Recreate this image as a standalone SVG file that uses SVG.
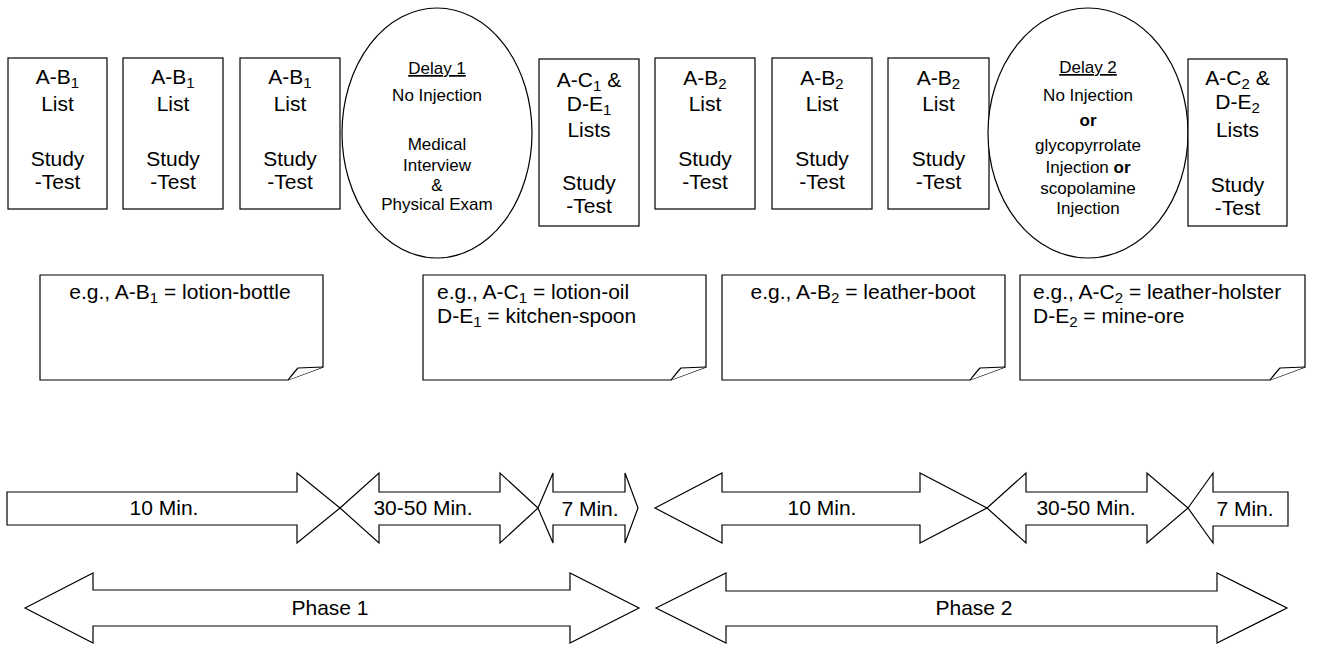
<svg xmlns="http://www.w3.org/2000/svg" width="1323" height="645" viewBox="0 0 1323 645">
<style>
.s{fill:#fff;stroke:#000;stroke-width:1.2}
.t{font-family:"Liberation Sans",Arial,Helvetica,sans-serif;fill:#000}
.bx{font-size:21px;text-anchor:middle}
.el{font-size:17px;text-anchor:middle}
.nt{font-size:21px}
.ar{font-size:21px;text-anchor:middle}
</style>
<rect width="1323" height="645" fill="#fff"/>
<g id="box1"><rect class="s" x="8" y="58" width="99" height="151"/>
<text class="t bx"><tspan x="57.5" y="84">A-B<tspan baseline-shift="-4" font-size="15">1</tspan></tspan><tspan x="57.5" y="111">List</tspan><tspan x="57.5" y="166">Study</tspan><tspan x="57.5" y="189">-Test</tspan></text></g>
<g id="box2"><rect class="s" x="123" y="58" width="100" height="151"/>
<text class="t bx"><tspan x="173" y="84">A-B<tspan baseline-shift="-4" font-size="15">1</tspan></tspan><tspan x="173" y="111">List</tspan><tspan x="173" y="166">Study</tspan><tspan x="173" y="189">-Test</tspan></text></g>
<g id="box3"><rect class="s" x="240" y="58" width="100" height="151"/>
<text class="t bx"><tspan x="290" y="84">A-B<tspan baseline-shift="-4" font-size="15">1</tspan></tspan><tspan x="290" y="111">List</tspan><tspan x="290" y="166">Study</tspan><tspan x="290" y="189">-Test</tspan></text></g>
<g id="delay1"><ellipse class="s" cx="437" cy="133" rx="95" ry="125"/>
<text class="t el" x="437" y="74" text-decoration="underline">Delay 1</text>
<text class="t el"><tspan x="437" y="101">No Injection</tspan><tspan x="437" y="150">Medical</tspan><tspan x="437" y="171">Interview</tspan><tspan x="437" y="191">&amp;</tspan><tspan x="437" y="210">Physical Exam</tspan></text></g>
<g id="box4"><rect class="s" x="539" y="59" width="100" height="167"/>
<text class="t bx"><tspan x="589" y="87">A-C<tspan baseline-shift="-4" font-size="15">1</tspan> &amp;</tspan><tspan x="589" y="111">D-E<tspan baseline-shift="-4" font-size="15">1</tspan></tspan><tspan x="589" y="137">Lists</tspan><tspan x="589" y="190">Study</tspan><tspan x="589" y="213">-Test</tspan></text></g>
<g id="box5"><rect class="s" x="655" y="58" width="100" height="151"/>
<text class="t bx"><tspan x="705" y="85">A-B<tspan baseline-shift="-4" font-size="15">2</tspan></tspan><tspan x="705" y="111">List</tspan><tspan x="705" y="166">Study</tspan><tspan x="705" y="189">-Test</tspan></text></g>
<g id="box6"><rect class="s" x="772" y="58" width="100" height="151"/>
<text class="t bx"><tspan x="822" y="85">A-B<tspan baseline-shift="-4" font-size="15">2</tspan></tspan><tspan x="822" y="111">List</tspan><tspan x="822" y="166">Study</tspan><tspan x="822" y="189">-Test</tspan></text></g>
<g id="box7"><rect class="s" x="888" y="58" width="101" height="151"/>
<text class="t bx"><tspan x="938.5" y="85">A-B<tspan baseline-shift="-4" font-size="15">2</tspan></tspan><tspan x="938.5" y="111">List</tspan><tspan x="938.5" y="166">Study</tspan><tspan x="938.5" y="189">-Test</tspan></text></g>
<g id="delay2"><ellipse class="s" cx="1088" cy="133" rx="100" ry="125"/>
<text class="t el" x="1088" y="73" text-decoration="underline">Delay 2</text>
<text class="t el"><tspan x="1088" y="101">No Injection</tspan><tspan x="1088" y="126" font-weight="bold">or</tspan><tspan x="1088" y="151">glycopyrrolate</tspan><tspan x="1088" y="173">Injection <tspan font-weight="bold">or</tspan></tspan><tspan x="1088" y="194">scopolamine</tspan><tspan x="1088" y="214">Injection</tspan></text></g>
<g id="box8"><rect class="s" x="1188" y="59" width="99" height="167"/>
<text class="t bx"><tspan x="1237.5" y="85">A-C<tspan baseline-shift="-4" font-size="15">2</tspan> &amp;</tspan><tspan x="1237.5" y="109">D-E<tspan baseline-shift="-4" font-size="15">2</tspan></tspan><tspan x="1237.5" y="137">Lists</tspan><tspan x="1237.5" y="192">Study</tspan><tspan x="1237.5" y="215">-Test</tspan></text></g>
<g id="note1"><path class="s" d="M40,275H323V367L288,380H40Z"/><path class="s" d="M288,380Q296,370 298,368L323,367"/>
<text class="t nt" x="180" y="299" text-anchor="middle">e.g., A-B<tspan baseline-shift="-4" font-size="15">1</tspan> = lotion-bottle</text></g>
<g id="note2"><path class="s" d="M423,275H706V367L671,380H423Z"/><path class="s" d="M671,380Q679,370 681,368L706,367"/>
<text class="t nt"><tspan x="437" y="299">e.g., A-C<tspan baseline-shift="-4" font-size="15">1</tspan> = lotion-oil</tspan><tspan x="437" y="323">D-E<tspan baseline-shift="-4" font-size="15">1</tspan> = kitchen-spoon</tspan></text></g>
<g id="note3"><path class="s" d="M722,275H1005V367L970,380H722Z"/><path class="s" d="M970,380Q978,370 980,368L1005,367"/>
<text class="t nt" x="863" y="299" text-anchor="middle">e.g., A-B<tspan baseline-shift="-4" font-size="15">2</tspan> = leather-boot</text></g>
<g id="note4"><path class="s" d="M1020,275H1305V367L1270,380H1020Z"/><path class="s" d="M1270,380Q1278,370 1280,368L1305,367"/>
<text class="t nt"><tspan x="1033" y="299">e.g., A-C<tspan baseline-shift="-4" font-size="15">2</tspan> = leather-holster</tspan><tspan x="1033" y="323">D-E<tspan baseline-shift="-4" font-size="15">2</tspan> = mine-ore</tspan></text></g>
<g id="timeline">
<g id="t1"><polygon class="s" points="7,492 297,492 297,473 340,508 297,543 297,525 7,525"/><text class="t ar" x="164" y="515">10 Min.</text></g>
<g id="t2"><polygon class="s" points="340,508 379,473 379,492 500,492 500,473 538,508 500,543 500,525 379,525 379,543"/><text class="t ar" x="423" y="515">30-50 Min.</text></g>
<g id="t3"><polygon class="s" points="538,508 553,473 553,492 625,492 625,473 638,508 625,543 625,525 553,525 553,543"/><text class="t ar" x="590" y="516">7 Min.</text></g>
<g id="t4"><polygon class="s" points="655,508 722,473 722,492 920,492 920,473 987,508 920,543 920,525 722,525 722,543"/><text class="t ar" x="822" y="515">10 Min.</text></g>
<g id="t5"><polygon class="s" points="987,508 1026,473 1026,492 1147,492 1147,473 1188,508 1147,543 1147,525 1026,525 1026,543"/><text class="t ar" x="1086" y="515">30-50 Min.</text></g>
<g id="t6"><polygon class="s" points="1188,508 1213,473 1213,492 1288,492 1288,526 1213,526 1213,543"/><text class="t ar" x="1245" y="516">7 Min.</text></g>
<g id="phase1"><polygon class="s" points="25,608 93,573 93,590 570,590 570,573 639,608 570,643 570,626 93,626 93,643"/><text class="t ar" x="330" y="615">Phase 1</text></g>
<g id="phase2"><polygon class="s" points="656,608 726,573 726,591 1217,591 1217,573 1287,608 1217,643 1217,626 726,626 726,643"/><text class="t ar" x="974" y="615">Phase 2</text></g>
</g>
</svg>
